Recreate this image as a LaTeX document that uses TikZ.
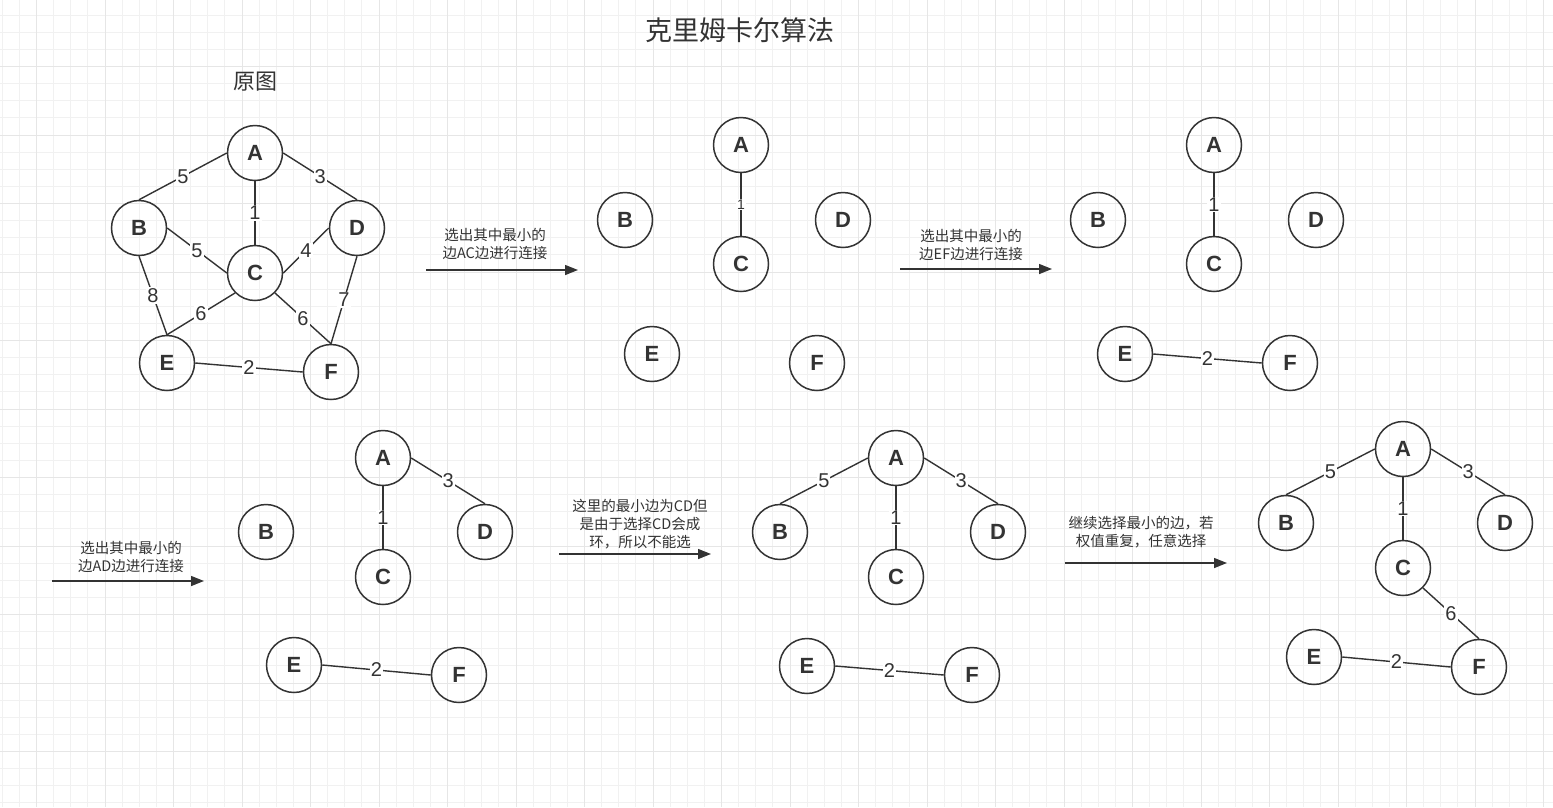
\documentclass[tikz,border=0pt]{standalone}
\usepackage{fontspec}
\setmainfont{Liberation Sans}
\newfontfamily\cjk{Noto Sans CJK SC}
\newfontfamily\vertexfont{Liberation Sans Bold}
\usepackage{xcolor}
\usepackage{tikz}
\usetikzlibrary{arrows.meta}
\definecolor{ink}{HTML}{333333}
\definecolor{gridfine}{HTML}{F1F1F1}
\definecolor{gridbold}{HTML}{E6E6E6}

\begin{document}
\begin{tikzpicture}[
        x=1pt, y=-1pt,
        vertex/.style={
          draw=ink,
          line width=1.5pt,
          circle,
          minimum size=55pt,
          inner sep=0pt,
          text=ink,
          font=\vertexfont\fontsize{22}{22}\selectfont
        },
        edge/.style={draw=ink, line width=1.4pt},
        weight/.style={
          fill=white,
          inner sep=1pt,
          text=ink,
          font=\fontsize{20}{20}\selectfont
        },
        smallweight/.style={weight, font=\fontsize{14}{14}\selectfont},
        note/.style={
          align=center,
          text=ink,
          font=\cjk\fontsize{14.5}{18}\selectfont
        },
        flow/.style={draw=ink, line width=1.4pt, -{Triangle[length=13pt, width=10pt]}}
      ]
        % background and grid
        \fill[white] (0,0) rectangle (1553,807);
        \useasboundingbox (0,0) rectangle (1553,807);
        \foreach \i in {0,...,90}
          \draw[gridfine, line width=1pt] ({2.25+17.125*\i},0) -- ({2.25+17.125*\i},807);
        \foreach \j in {0,...,46}
          \draw[gridfine, line width=1pt] (0,{15.125+17.125*\j}) -- (1553,{15.125+17.125*\j});
        \foreach \i in {0,...,22}
          \draw[gridbold, line width=1pt] ({36.5+68.5*\i},0) -- ({36.5+68.5*\i},807);
        \foreach \j in {0,...,10}
          \draw[gridbold, line width=1pt] (0,{66.5+68.5*\j}) -- (1553,{66.5+68.5*\j});

        \node[text=ink, font=\cjk\fontsize{27}{27}\selectfont] (title) at (740,30) {克里姆卡尔算法};
        \node[text=ink, font=\cjk\fontsize{22}{22}\selectfont] (orig) at (255,82) {原图};

        % original graph
        \node[vertex] (A0) at (255,153) {A};
        \node[vertex] (B0) at (139,228) {B};
        \node[vertex] (C0) at (255,273) {C};
        \node[vertex] (D0) at (357,228) {D};
        \node[vertex] (E0) at (167,363) {E};
        \node[vertex] (F0) at (331,372) {F};
        \draw[edge] (A0.west) -- node[weight] {5} (B0.north);
        \draw[edge] (A0.east) -- node[weight] {3} (D0.north);
        \draw[edge] (A0.south) -- node[weight] {1} (C0.north);
        \draw[edge] (B0.east) -- node[weight] {5} (C0.west);
        \draw[edge] (C0.east) -- node[weight] {4} (D0.west);
        \draw[edge] (B0.south) -- node[weight] {8} (E0.north);
        \draw[edge] (C0.south west) -- node[weight] {6} (E0.north);
        \draw[edge] (C0.south east) -- node[weight] {6} (F0.north);
        \draw[edge] (D0.south) -- node[weight] {7} (F0.north);
        \draw[edge] (E0.east) -- node[weight] {2} (F0.west);

        % step 1
        \coordinate (go1s) at (426,270);
        \coordinate (go1e) at (578,270);
        \draw[flow] (go1s) -- (go1e);
        \node[note] (say1) at (495,244) {选出其中最小的\\边AC边进行连接};

        \node[vertex] (A1) at (741,145) {A};
        \node[vertex] (B1) at (625,220) {B};
        \node[vertex] (C1) at (741,264) {C};
        \node[vertex] (D1) at (843,220) {D};
        \node[vertex] (E1) at (652,354) {E};
        \node[vertex] (F1) at (817,363) {F};
        \draw[edge] (A1.south) -- node[smallweight] {1} (C1.north);

        % step 2
        \coordinate (go2s) at (900,269);
        \coordinate (go2e) at (1052,269);
        \draw[flow] (go2s) -- (go2e);
        \node[note] (say2) at (971,245) {选出其中最小的\\边EF边进行连接};

        \node[vertex] (A2) at (1214,145) {A};
        \node[vertex] (B2) at (1098,220) {B};
        \node[vertex] (C2) at (1214,264) {C};
        \node[vertex] (D2) at (1316,220) {D};
        \node[vertex] (E2) at (1125,354) {E};
        \node[vertex] (F2) at (1290,363) {F};
        \draw[edge] (A2.south) -- node[weight] {1} (C2.north);
        \draw[edge] (E2.east) -- node[weight] {2} (F2.west);

        % step 3
        \coordinate (go3s) at (52,581);
        \coordinate (go3e) at (204,581);
        \draw[flow] (go3s) -- (go3e);
        \node[note] (say3) at (131,557) {选出其中最小的\\边AD边进行连接};

        \node[vertex] (A3) at (383,458) {A};
        \node[vertex] (B3) at (266,532) {B};
        \node[vertex] (C3) at (383,577) {C};
        \node[vertex] (D3) at (485,532) {D};
        \node[vertex] (E3) at (294,665) {E};
        \node[vertex] (F3) at (459,675) {F};
        \draw[edge] (A3.east) -- node[weight] {3} (D3.north);
        \draw[edge] (A3.south) -- node[weight] {1} (C3.north);
        \draw[edge] (E3.east) -- node[weight] {2} (F3.west);

        % step 4
        \coordinate (go4s) at (559,554);
        \coordinate (go4e) at (711,554);
        \draw[flow] (go4s) -- (go4e);
        \node[note] (say4) at (640,524) {这里的最小边为CD但\\是由于选择CD会成\\环，所以不能选};

        \node[vertex] (A4) at (896,458) {A};
        \node[vertex] (B4) at (780,532) {B};
        \node[vertex] (C4) at (896,577) {C};
        \node[vertex] (D4) at (998,532) {D};
        \node[vertex] (E4) at (807,666) {E};
        \node[vertex] (F4) at (972,675) {F};
        \draw[edge] (A4.west) -- node[weight] {5} (B4.north);
        \draw[edge] (A4.east) -- node[weight] {3} (D4.north);
        \draw[edge] (A4.south) -- node[weight] {1} (C4.north);
        \draw[edge] (E4.east) -- node[weight] {2} (F4.west);

        % step 5
        \coordinate (go5s) at (1065,563);
        \coordinate (go5e) at (1227,563);
        \draw[flow] (go5s) -- (go5e);
        \node[note] (say5) at (1141,532) {继续选择最小的边，若\\权值重复，任意选择};

        \node[vertex] (A5) at (1403,449) {A};
        \node[vertex] (B5) at (1286,523) {B};
        \node[vertex] (C5) at (1403,568) {C};
        \node[vertex] (D5) at (1505,523) {D};
        \node[vertex] (E5) at (1314,657) {E};
        \node[vertex] (F5) at (1479,667) {F};
        \draw[edge] (A5.west) -- node[weight] {5} (B5.north);
        \draw[edge] (A5.east) -- node[weight] {3} (D5.north);
        \draw[edge] (A5.south) -- node[weight] {1} (C5.north);
        \draw[edge] (C5.south east) -- node[weight] {6} (F5.north);
        \draw[edge] (E5.east) -- node[weight] {2} (F5.west);
      \end{tikzpicture}
\end{document}
